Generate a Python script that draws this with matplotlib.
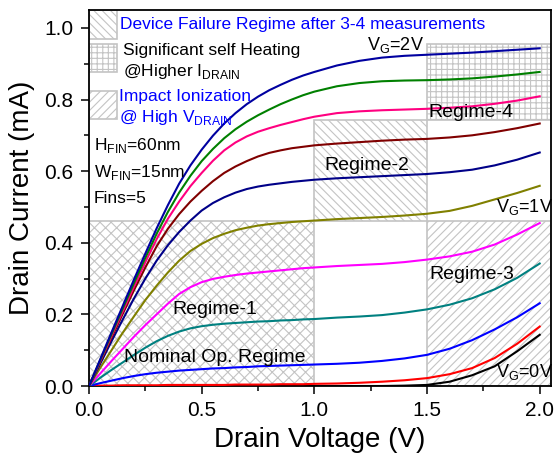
import matplotlib
matplotlib.use('Agg')
import matplotlib.pyplot as plt
from matplotlib.patches import Rectangle
from matplotlib.ticker import MultipleLocator, FormatStrFormatter

plt.rcParams['font.family'] = ['Liberation Sans', 'DejaVu Sans']
plt.rcParams['hatch.linewidth'] = 0.8

# --- measured Id-Vd sweep (mA); 50 mV step up to 1 V, 100 mV after ---
VD = [0.0, 0.05, 0.1, 0.15, 0.2, 0.25, 0.3, 0.35, 0.4, 0.45, 0.5,
      0.55, 0.6, 0.65, 0.7, 0.75, 0.8, 0.85, 0.9, 0.95, 1.0,
      1.1, 1.2, 1.3, 1.4, 1.5, 1.6, 1.7, 1.8, 1.9, 2.0]

ID_VG00 = [0, 0, 0, 0, 0, 0, 0, 0, 0, 0, 0,
           0, 0, 0, 0, 0, 0, 0, 0, 0, 0,
           0, 0, 0, 0.001, 0.003, 0.012, 0.030, 0.055, 0.097, 0.143]
ID_VG02 = [0, 0.001, 0.001, 0.002, 0.002, 0.002, 0.002, 0.003, 0.003, 0.003, 0.003,
           0.003, 0.003, 0.004, 0.004, 0.004, 0.004, 0.005, 0.005, 0.005, 0.006,
           0.007, 0.009, 0.012, 0.016, 0.022, 0.033, 0.050, 0.078, 0.118, 0.166]
ID_VG04 = [0, 0.008, 0.015, 0.022, 0.028, 0.033, 0.037, 0.040, 0.043, 0.045, 0.047,
           0.049, 0.050, 0.052, 0.053, 0.055, 0.056, 0.057, 0.058, 0.059, 0.060,
           0.062, 0.065, 0.070, 0.077, 0.087, 0.104, 0.128, 0.158, 0.192, 0.231]
ID_VG06 = [0, 0.023, 0.045, 0.066, 0.087, 0.107, 0.125, 0.140, 0.152, 0.161, 0.167,
           0.171, 0.174, 0.176, 0.178, 0.180, 0.181, 0.183, 0.184, 0.186, 0.187,
           0.191, 0.194, 0.198, 0.205, 0.214, 0.227, 0.245, 0.270, 0.302, 0.342]
ID_VG08 = [0, 0.035, 0.070, 0.104, 0.138, 0.170, 0.200, 0.230, 0.257, 0.276, 0.290,
           0.299, 0.305, 0.310, 0.314, 0.317, 0.320, 0.323, 0.326, 0.329, 0.331,
           0.335, 0.338, 0.341, 0.346, 0.353, 0.362, 0.375, 0.395, 0.423, 0.455]
ID_VG10 = [0, 0.051, 0.100, 0.149, 0.195, 0.240, 0.280, 0.317, 0.350, 0.377, 0.397,
           0.413, 0.425, 0.435, 0.442, 0.448, 0.452, 0.455, 0.458, 0.460, 0.462,
           0.466, 0.469, 0.472, 0.476, 0.481, 0.489, 0.503, 0.521, 0.539, 0.559]
ID_VG12 = [0, 0.0625, 0.125, 0.186, 0.245, 0.300, 0.350, 0.393, 0.430, 0.462, 0.490,
           0.511, 0.527, 0.540, 0.550, 0.557, 0.562, 0.566, 0.570, 0.573, 0.576,
           0.580, 0.583, 0.586, 0.589, 0.592, 0.597, 0.604, 0.616, 0.632, 0.652]
ID_VG14 = [0, 0.0675, 0.135, 0.202, 0.268, 0.331, 0.390, 0.439, 0.480, 0.515, 0.545,
           0.572, 0.595, 0.613, 0.628, 0.641, 0.651, 0.658, 0.664, 0.668, 0.672,
           0.677, 0.681, 0.685, 0.688, 0.690, 0.694, 0.700, 0.709, 0.720, 0.733]
ID_VG16 = [0, 0.070, 0.140, 0.209, 0.278, 0.346, 0.410, 0.467, 0.515, 0.558, 0.595,
           0.629, 0.658, 0.680, 0.697, 0.710, 0.720, 0.729, 0.737, 0.745, 0.752,
           0.762, 0.767, 0.770, 0.772, 0.774, 0.777, 0.781, 0.788, 0.797, 0.809]
ID_VG18 = [0, 0.0725, 0.145, 0.217, 0.288, 0.358, 0.425, 0.486, 0.540, 0.587, 0.628,
           0.662, 0.692, 0.717, 0.738, 0.756, 0.772, 0.787, 0.800, 0.812, 0.822,
           0.837, 0.846, 0.851, 0.853, 0.854, 0.856, 0.859, 0.864, 0.870, 0.877]
ID_VG20 = [0, 0.075, 0.150, 0.224, 0.298, 0.370, 0.440, 0.505, 0.565, 0.616, 0.660,
           0.699, 0.733, 0.762, 0.787, 0.808, 0.826, 0.841, 0.855, 0.867, 0.877,
           0.895, 0.908, 0.917, 0.922, 0.925, 0.928, 0.931, 0.935, 0.939, 0.943]

CURVES = [ID_VG00, ID_VG02, ID_VG04, ID_VG06, ID_VG08, ID_VG10,
          ID_VG12, ID_VG14, ID_VG16, ID_VG18, ID_VG20]
COLORS = ['#000000', '#FF0000', '#0000FF', '#008080', '#FF00FF', '#808000',
          '#000088', '#800000', '#FF0080', '#008000', '#0000A0']

# operating regimes: (vd_min, vd_max, id_min, id_max, hatch)
REGIMES = [
    (0.0, 1.0, 0.0, 0.462, 'xxx'),
    (1.0, 1.5, 0.462, 0.744, '\\\\\\\\'),
    (1.5, 2.05, 0.744, 0.955, '+++'),
    (1.5, 2.05, 0.0, 0.462, '////'),
]

HATCH_GRAY = '#c4c4c4'

fig = plt.figure(figsize=(5.57, 4.58), dpi=100)
ax = fig.add_axes([0.1598, 0.1572, 0.8294, 0.821])

for x0, x1, y0, y1, hatch in REGIMES:
    ax.add_patch(Rectangle((x0, y0), x1 - x0, y1 - y0, facecolor='none',
                           edgecolor=HATCH_GRAY, hatch=hatch, lw=1.2, zorder=1))

# legend swatches
for y0, y1, hatch in [(0.969, 1.05, '\\\\\\\\'), (0.876, 0.956, '+++'), (0.745, 0.823, '////')]:
    ax.add_patch(Rectangle((0.0, y0), 0.124, y1 - y0, facecolor='none',
                           edgecolor=HATCH_GRAY, hatch=hatch, lw=1.2, zorder=1))

for ids, c in zip(CURVES, COLORS):
    ax.plot(VD, ids, color=c, lw=1.5, zorder=3)

ax.text(0.137, 0.996, 'Device Failure Regime after 3-4 measurements', color='#0000FF', fontsize=12.5)
ax.text(0.149, 0.924, 'Significant self Heating', color='black', fontsize=12.5)
ax.text(0.149, 0.866, r'@Higher I$_\mathregular{DRAIN}$', color='black', fontsize=12.5)
ax.text(0.133, 0.797, 'Impact Ionization', color='#0000FF', fontsize=12.5)
ax.text(0.133, 0.736, r'@ High V$_\mathregular{DRAIN}$', color='#0000FF', fontsize=12.5)

ax.text(0.022, 0.660, r'H$_\mathregular{FIN}$=60nm', fontsize=12.5)
ax.text(0.022, 0.585, r'W$_\mathregular{FIN}$=15nm', fontsize=12.5)
ax.text(0.022, 0.510, 'Fins=5', fontsize=12.5)

ax.text(1.232, 0.604, 'Regime-2', fontsize=14, ha='center')
ax.text(1.695, 0.752, 'Regime-4', fontsize=14, ha='center')
ax.text(1.697, 0.298, 'Regime-3', fontsize=14, ha='center')
ax.text(0.56, 0.200, 'Regime-1', fontsize=14, ha='center')
ax.text(0.56, 0.066, 'Nominal Op. Regime', fontsize=14, ha='center')

ax.text(1.235, 0.937, r'V$_\mathregular{G}$=2V', fontsize=13)
ax.text(1.805, 0.486, r'V$_\mathregular{G}$=1V', fontsize=13)
ax.text(1.805, 0.026, r'V$_\mathregular{G}$=0V', fontsize=13)

ax.set_xlim(0, 2.05)
ax.set_ylim(0, 1.05)
ax.xaxis.set_major_locator(MultipleLocator(0.5))
ax.xaxis.set_minor_locator(MultipleLocator(0.25))
ax.yaxis.set_major_locator(MultipleLocator(0.2))
ax.yaxis.set_minor_locator(MultipleLocator(0.1))
ax.xaxis.set_major_formatter(FormatStrFormatter('%.1f'))
ax.yaxis.set_major_formatter(FormatStrFormatter('%.1f'))
ax.tick_params(which='major', direction='out', length=5.5, width=1.1, labelsize=15)
ax.tick_params(which='minor', direction='out', length=3.5, width=1.1)
ax.tick_params(axis='x', which='major', pad=5)
ax.tick_params(axis='y', which='major', pad=6)
for s in ax.spines.values():
    s.set_linewidth(1.3)

ax.set_xlabel('Drain Voltage (V)', fontsize=20, labelpad=5)
ax.set_ylabel('Drain Current (mA)', fontsize=20, labelpad=6)

fig.savefig('out.png', dpi=100)
